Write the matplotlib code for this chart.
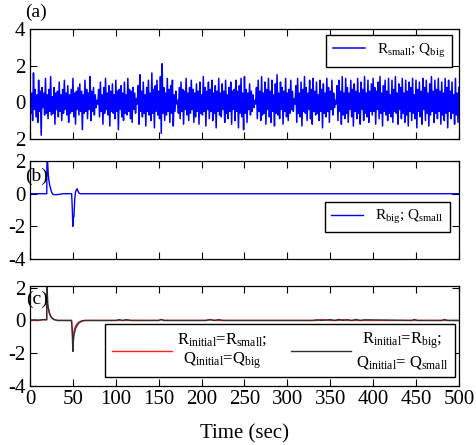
import numpy as np
import matplotlib
matplotlib.use("Agg")
import matplotlib.pyplot as plt

plt.rcParams['font.family'] = ['Liberation Serif', 'DejaVu Serif']
plt.rcParams['mathtext.fontset'] = 'custom'
plt.rcParams['mathtext.rm'] = 'Liberation Serif'
plt.rcParams['mathtext.it'] = 'Liberation Serif:italic'
plt.rcParams['axes.unicode_minus'] = False

# (a) R_small ; Q_big  -- sampled every 1 s
t_a = np.arange(0, 501, 1)
y_a = [
    0.9, -0.6, 0.5, -1.0, 1.6, -0.4, 0.7, -0.8, 0.4, -1.1, 1.2, -0.5, 0.6, -1.8, 0.8, -0.3, 0.5, -0.7, 1.3, -0.6,
    0.4, -0.9, 0.7, -0.5, 1.4, -0.7, 0.3, -0.6, 0.8, -1.2, 0.5, -0.4, 0.6, -0.8, 1.1, -0.5, 0.4, -1.0, 0.7, -0.6,
    1.2, -0.4, 0.5, -0.7, 0.9, -1.1, 0.4, -0.6, 0.7, -0.5, 1.3, -0.8, 0.5, -1.2, 0.6, -0.4, 0.8, -0.7, 1.0, -0.5,
    0.6, -1.5, 0.4, -0.6, 1.2, -0.5, 0.7, -0.9, 0.5, -0.4, 1.4, -1.0, 0.6, -0.5, 0.8, -0.7, 0.4, -0.3, 0.1, -0.1,
    0.7, -0.8, 1.1, -0.5, 0.4, -1.2, 0.8, -0.6, 1.3, -0.4, 0.5, -0.7, 0.9, -1.3, 0.6, -0.5, 1.0, -0.6, 0.4, -0.9,
    1.2, -0.5, 0.6, -1.5, 0.7, -0.4, 0.9, -0.8, 0.5, -1.0, 1.1, -0.6, 0.4, -0.7, 1.3, -0.5, 0.7, -0.9, 0.6, -1.1,
    0.8, -0.4, 0.5, -0.6, 0.2, -0.1, 0.9, -1.2, 1.5, -0.5, 0.6, -0.8, 1.1, -0.6, 0.4, -1.3, 0.8, -0.5, 1.2, -0.7,
    0.5, -1.0, 1.6, -0.6, 0.7, -1.4, 0.9, -0.5, 1.2, -0.7, 0.6, -0.9, 1.4, -1.7, 2.1, -0.6, 0.8, -1.0, 0.5, -0.7,
    1.3, -0.5, 0.7, -1.1, 0.9, -0.6, 1.2, -1.3, 0.4, -0.5, 0.6, -0.1, 0.1, -0.6, 0.8, -0.9, 1.1, -0.5, 0.7, -1.2,
    0.6, -0.4, 1.3, -0.7, 0.5, -1.0, 0.8, -0.6, 1.2, -0.4, 0.7, -1.1, 0.5, -0.8, 1.0, -0.5, 0.6, -1.2, 1.1, -0.6,
    0.4, -0.7, 1.4, -0.5, 0.8, -1.3, 0.6, -0.4, 1.1, -0.9, 0.7, -0.5, 1.2, -1.0, 0.5, -0.6, 0.9, -1.4, 0.6, -0.5,
    1.3, -0.7, 0.5, -0.8, 1.0, -0.4, 0.6, -1.1, 1.2, -0.6, 0.4, -0.9, 0.8, -0.5, 1.1, -1.2, 0.6, -0.4, 0.7, -1.0,
    1.2, -0.5, 0.6, -1.4, 0.9, -0.6, 1.3, -0.8, 0.5, -1.5, 1.4, -0.6, 0.7, -1.1, 0.5, -0.4, 1.0, -0.7, 0.6, -0.5,
    0.4, -0.3, 0.1, -0.1, 0.8, -0.9, 1.2, -0.5, 0.6, -1.0, 1.4, -0.7, 0.5, -0.6, 1.1, -1.2, 0.7, -0.4, 1.3, -0.8,
    0.6, -1.1, 1.2, -0.5, 0.4, -1.3, 1.0, -0.6, 1.5, -0.7, 0.5, -0.9, 1.1, -0.4, 0.8, -1.2, 0.6, -0.5, 1.3, -0.8,
    0.5, -1.0, 0.7, -0.6, 1.2, -0.4, 0.6, -0.5, 0.2, -0.1, 0.9, -1.1, 1.3, -0.6, 0.5, -0.8, 1.1, -1.3, 0.7, -0.5,
    1.4, -0.6, 0.8, -1.0, 0.5, -0.4, 1.2, -0.9, 0.7, -1.2, 1.3, -0.5, 0.6, -0.7, 1.1, -0.6, 0.4, -1.0, 1.2, -0.5,
    0.7, -1.4, 1.0, -0.6, 0.5, -0.8, 1.3, -0.5, 0.8, -1.1, 0.6, -0.4, 1.2, -0.7, 0.5, -0.3, 0.1, -0.1, 0.9, -1.0,
    1.2, -0.5, 0.6, -1.2, 1.4, -0.7, 0.5, -0.9, 1.3, -0.6, 0.8, -1.1, 0.5, -0.4, 1.2, -0.8, 0.7, -1.3, 1.0, -0.5,
    0.6, -0.9, 1.3, -0.6, 0.5, -1.2, 1.1, -0.4, 0.7, -1.0, 1.4, -0.6, 0.5, -0.8, 1.2, -1.1, 0.6, -0.5, 1.0, -0.7,
    1.3, -0.5, 0.8, -1.2, 0.6, -0.4, 1.1, -0.9, 1.4, -0.6, 0.5, -1.3, 0.9, -0.5, 1.2, -0.7, 0.6, -1.0, 1.3, -0.6,
    0.4, -0.8, 1.2, -1.1, 0.7, -0.5, 1.4, -0.6, 0.5, -1.2, 1.0, -0.4, 0.8, -0.9, 1.3, -0.6, 0.5, -1.1, 1.2, -0.7,
    0.6, -1.3, 1.1, -0.5, 0.8, -1.0, 1.3, -0.6, 0.4, -0.9, 1.2, -1.4, 0.7, -0.5, 1.1, -0.8, 0.6, -1.2, 1.3, -0.4,
    0.8, -1.0, 1.2, -0.6, 0.5, -1.3, 1.0, -0.7, 1.4, -0.5, 0.6, -1.1, 1.2, -0.6, 0.7, -0.9, 1.3, -0.5, 0.6, -1.2,
    1.1, -0.7, 0.5, -1.0, 1.3, -0.6, 0.8, -1.4, 1.2, -0.5, 0.6, -0.9, 1.1, -0.6, 0.4, -1.2, 1.3, -0.7, 0.5, -1.1,
    0.8,
]

# (b) R_big ; Q_small
t_b = [0, 19.5, 19.8, 20.5, 21.2, 22, 23, 24, 25.5, 27, 30, 34, 38, 48.5, 49.3, 49.9, 50.4, 51.2,
       52, 53, 54, 55, 56, 57, 58.5, 500]
y_b = [0, 0, 2.6, 2.0, 1.2, 0.8, 0.5, 0.3, 0.05, -0.05, -0.06, -0.04, 0, 0, -1.0, -2.0, -1.5, -1.4,
       -0.4, 0.1, 0.25, 0.3, 0.15, 0.05, 0, 0]

# (c) two initial conditions
t_c = [0, 4, 5, 6, 10, 15, 19.4, 19.6, 20.5, 21.5, 22.5, 24, 26, 28, 32, 40, 48.3, 49.2, 49.9, 50.6,
       51.5, 53, 55, 57, 60, 64, 100, 104, 108, 112, 118, 150, 153, 156, 205, 210, 215, 220, 225, 300,
       330, 335, 340, 350, 355, 360, 365, 370, 375, 380, 385, 390, 445, 448, 452, 480, 483, 487, 500]
y_black = [0.03, 0.03, 0.03, 0.03, 0.02, 0.05, 0.05, 2.6, 1.0, 0.7, 0.45, 0.25, 0.12, 0.05, 0.0, 0.0,
           0.0, -0.7, -1.9, -1.2, -0.8, -0.5, -0.3, -0.15, -0.05, 0.0, 0.0, 0.05, 0.0, 0.05, 0.0, 0.0,
           0.05, 0.0, 0.0, 0.04, 0.0, 0.05, 0.0, 0.0, 0.0, 0.04, 0.0, 0.05, 0.0, 0.06, 0.0, 0.05, 0.0,
           0.06, 0.0, 0.04, 0.0, 0.06, 0.0, 0.0, 0.06, 0.0, 0.0]
y_red = [0.0, 0.0, 0.04, 0.0, 0.0, 0.04, 0.04, 2.6, 1.05, 0.72, 0.47, 0.26, 0.13, 0.06, 0.0, 0.0,
         0.0, -0.5, -1.2, -0.9, -0.6, -0.35, -0.2, -0.1, -0.03, 0.0, 0.0, 0.0, 0.0, 0.0, 0.0, 0.0,
         0.06, 0.0, 0.0, 0.06, 0.0, 0.0, 0.0, 0.0, 0.0, 0.0, 0.05, 0.0, 0.0, 0.0, 0.05, 0.0, 0.0,
         0.0, 0.0, 0.0, 0.0, 0.0, 0.0, 0.0, 0.0, 0.0, 0.0]

xticks = [0, 50, 100, 150, 200, 250, 300, 350, 400, 450, 500]

fig = plt.figure(figsize=(4.77, 4.45), dpi=100)
ax_a = fig.add_axes([0.063, 0.688, 0.899, 0.247])
ax_b = fig.add_axes([0.063, 0.418, 0.899, 0.220])
ax_c = fig.add_axes([0.063, 0.133, 0.899, 0.224])

for ax in (ax_a, ax_b, ax_c):
    ax.set_xlim(0, 500)
    ax.set_xticks(xticks)
    ax.tick_params(direction='in', top=True, right=True, labelsize=15, length=5)
    ax.tick_params(axis='x', pad=3)
    ax.tick_params(axis='y', pad=3.5)
    for s in ax.spines.values():
        s.set_linewidth(0.9)

leg_kw = dict(fancybox=False, edgecolor='black', framealpha=1, borderaxespad=0)

ax_a.plot(t_a, y_a, color='#0000ff', lw=1.1, label=r'R$_{\mathrm{small}}$; Q$_{\mathrm{big}}$')
ax_a.set_ylim(-2, 4)
ax_a.set_yticks([-2, 0, 2, 4])
ax_a.set_yticklabels(['2', '0', '2', '4'])
ax_a.set_xticklabels([])
ax_a.legend(loc='upper right', bbox_to_anchor=(0.985, 0.945), fontsize=11, handlelength=2.1,
            borderpad=0.45, **leg_kw)
ax_a.text(-0.012, 1.155, '(a)', transform=ax_a.transAxes, fontsize=14, va='center')

ax_b.plot(t_b, y_b, color='#0000ff', lw=1.0, label=r'R$_{\mathrm{big}}$; Q$_{\mathrm{small}}$')
ax_b.set_ylim(-4, 2)
ax_b.set_yticks([-4, -2, 0, 2])
ax_b.set_xticklabels([])
ax_b.legend(loc='upper right', bbox_to_anchor=(0.979, 0.582), fontsize=11, handlelength=2.1,
            borderpad=0.4, **leg_kw)
ax_b.text(-0.012, 0.847, '(b)', transform=ax_b.transAxes, fontsize=14, va='center')

ax_c.plot(t_c, y_red, color='#ff2020', lw=1.0,
          label='R$_{\\mathrm{initial}}$=R$_{\\mathrm{small}}$;\nQ$_{\\mathrm{initial}}$=Q$_{\\mathrm{big}}$')
ax_c.plot(t_c, y_black, color='#303030', lw=1.0,
          label='R$_{\\mathrm{initial}}$=R$_{\\mathrm{big}}$;\nQ$_{\\mathrm{initial}}$= Q$_{\\mathrm{small}}$')
ax_c.set_ylim(-4, 2.1)
ax_c.set_yticks([-4, -2, 0, 2])
ax_c.set_xticklabels([str(v) for v in xticks])
leg = ax_c.legend(loc='upper right', bbox_to_anchor=(0.99, 0.62), ncol=2, fontsize=12,
                  handlelength=3.6, handletextpad=0.3, columnspacing=1.4,
                  borderpad=0.4, labelspacing=0.2, **leg_kw)
for txt in leg.get_texts():
    txt.set_multialignment('center')
ax_c.text(-0.008, 0.87, '(c)', transform=ax_c.transAxes, fontsize=14, va='center')
ax_c.set_xlabel('Time (sec)', fontsize=15, labelpad=11)

fig.savefig('out.png', dpi=100)
